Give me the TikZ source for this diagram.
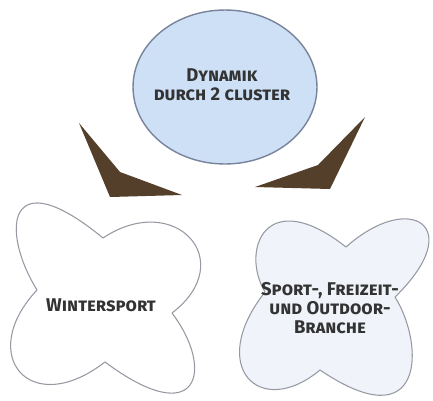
\documentclass[tikz,border=0pt]{standalone}
\usepackage{fontspec}
\setmainfont{Fira Sans}
\definecolor{bubbleblue}{RGB}{206, 224, 246}
\definecolor{bubbleline}{RGB}{120, 132, 155}
\definecolor{wedgebrown}{RGB}{84, 64, 42}
\definecolor{cloverblue}{RGB}{240, 244, 250}
\definecolor{cloverline}{RGB}{150, 152, 162}
\usepackage{tikz}
\usetikzlibrary{shapes.geometric, positioning}
\tikzset{
  clustertext/.style={font=\fontsize{10.5}{10.8}\selectfont\bfseries\scshape, align=center, text=black!80},
  clover/.style={draw=cloverline, line width=0.6pt, line join=round},
  wedge/.style={fill=wedgebrown},
}

\begin{document}
\begin{tikzpicture}[x=0.02cm, y=-0.02cm]
  \useasboundingbox (0,0) rectangle (433,400);

  \node[ellipse, draw=bubbleline, fill=bubbleblue, line width=0.8pt, minimum width=3.68cm, minimum height=3.08cm] (dynamik) at (225,87) {};
  \node[clustertext] (dynamiktext) at (222,85) {Dynamik\\durch 2 cluster};

  % the two wedges
  \fill[wedge] (79,123) -- (120,172) -- (182,195) -- (110,197) -- cycle;
  \fill[wedge] (365,117) -- (318,165) -- (255,187) -- (330,189) -- cycle;

  % four-lobed shapes
  \draw[clover, fill=white] (37,290) .. controls (0,230) and (7,159) .. (103,238)
    .. controls (175,190) and (240,261) .. (172,313)
    .. controls (215,370) and (199,432) .. (105,362)
    .. controls (30,420) and (-24,355) .. cycle;
  \draw[clover, fill=cloverblue] (265,292) .. controls (240,250) and (266,184) .. (346,247)
    .. controls (410,190) and (468,226) .. (395,297)
    .. controls (425,345) and (425,441) .. (320,370)
    .. controls (260,420) and (206,367) .. cycle;

  \node[clustertext] (winter) at (101,305) {Wintersport};
  \node[clustertext] (branche) at (330,308) {Sport-, Freizeit-\\und Outdoor-\\Branche};
\end{tikzpicture}
\end{document}
